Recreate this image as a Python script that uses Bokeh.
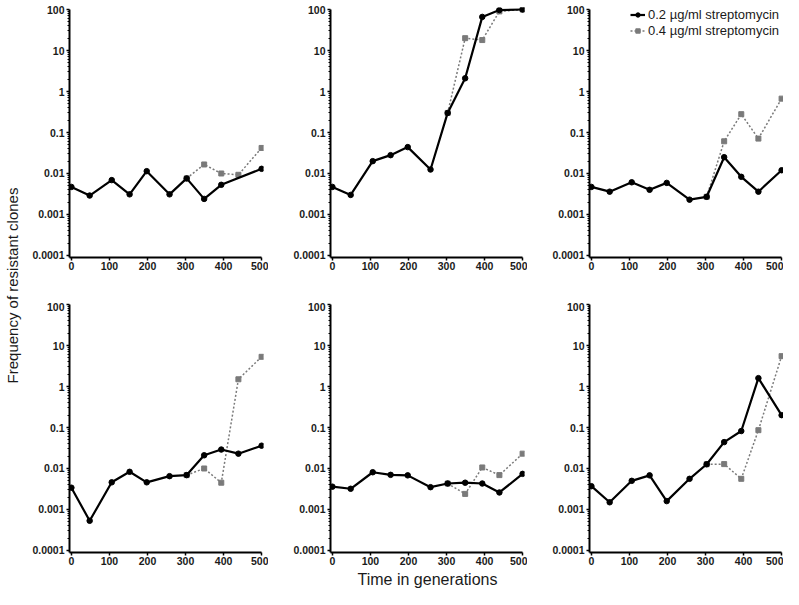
from bokeh.plotting import figure
from bokeh.layouts import row, column
from bokeh.models import FixedTicker, CustomJSTickFormatter, Legend, LegendItem, Label
from bokeh.embed import file_html
from bokeh.resources import INLINE

# ---------------- data ----------------
gens = [0, 48, 106, 153, 198, 258, 303, 349, 394, 439, 500]
gens_p1 = [0, 48, 106, 153, 198, 258, 303, 349, 394, 500]
gens_dash = [303, 349, 394, 439, 500]

p1_low = [0.0047, 0.0029, 0.0069, 0.0031, 0.0114, 0.0031, 0.0076, 0.0024, 0.0053, 0.013]
p1_high = [0.0076, 0.0166, 0.010, 0.0093, 0.042]
p2_low = [0.0047, 0.0030, 0.020, 0.028, 0.044, 0.0125, 0.30, 2.1, 66, 97, 100]
p2_high = [0.30, 20, 18, 90, 100]
p3_low = [0.0047, 0.0036, 0.0061, 0.0040, 0.0059, 0.0023, 0.0027, 0.025, 0.0083, 0.0036, 0.012]
p3_high = [0.0027, 0.061, 0.28, 0.071, 0.67]
p4_low = [0.0034, 0.00053, 0.0046, 0.0083, 0.0046, 0.0065, 0.0069, 0.021, 0.029, 0.023, 0.036]
p4_high = [0.0069, 0.010, 0.0045, 1.5, 5.3]
p5_low = [0.0036, 0.0032, 0.0081, 0.0070, 0.0068, 0.0035, 0.0043, 0.0045, 0.0043, 0.0026, 0.0074]
p5_high = [0.0043, 0.0024, 0.0106, 0.0069, 0.023]
p6_low = [0.0037, 0.0015, 0.0050, 0.0068, 0.0016, 0.0056, 0.0127, 0.044, 0.082, 1.6, 0.20]
p6_high = [0.0127, 0.0128, 0.0056, 0.086, 5.5]

y_ticks = [0.0001, 0.001, 0.01, 0.1, 1, 10, 100]
x_ticks = [0, 100, 200, 300, 400, 500]
label_low = "0.2 µg/ml streptomycin"
label_high = "0.4 µg/ml streptomycin"
y_title = "Frequency of resistant clones"
x_title = "Time in generations"

FONT = "Liberation Sans"
TXT = "#1a1a1a"
minor = [m * 10.0 ** e for e in range(-4, 2) for m in range(2, 10)]
X0, X1 = -5, 505
Y0, Y1 = 0.0001 / 1.12, 100 * 1.12
FRAME_W, FRAME_H = 194, 250


def panel(xl, yl, xh, yh, left, right, top, bottom):
    p = figure(width=left + FRAME_W + right, height=top + FRAME_H + bottom,
               y_axis_type="log", x_range=(X0, X1), y_range=(Y0, Y1),
               output_backend="svg", toolbar_location=None)
    p.min_border = 0
    p.min_border_left = left
    p.min_border_right = right
    p.min_border_top = top
    p.min_border_bottom = bottom
    p.outline_line_color = None
    p.xgrid.visible = False
    p.ygrid.visible = False
    p.background_fill_color = "white"

    p.yaxis.ticker = FixedTicker(ticks=y_ticks, minor_ticks=minor)
    p.yaxis.formatter = CustomJSTickFormatter(code="return tick.toString();")
    p.xaxis.ticker = FixedTicker(ticks=x_ticks, minor_ticks=[])
    p.yaxis.bounds = (Y0, 100)
    p.xaxis.bounds = (X0, 500)
    for ax in (p.xaxis, p.yaxis):
        ax.axis_line_width = 2
        ax.axis_line_color = "black"
        ax.major_tick_line_width = 1.5
        ax.major_tick_line_color = "black"
        ax.major_tick_in = 0
        ax.major_tick_out = 3
        ax.minor_tick_in = 0
        ax.minor_tick_out = 2
        ax.minor_tick_line_color = "black"
        ax.major_label_text_font = FONT
        ax.major_label_text_font_style = "bold"
        ax.major_label_text_font_size = "10.5px"
        ax.major_label_text_color = TXT
    p.xaxis.major_label_standoff = 1
    p.yaxis.major_label_standoff = 2

    lh = p.line(xh, yh, line_color="#7a7a7a", line_width=1.5, line_dash="2 2")
    sh = p.scatter(xh, yh, marker="square", size=5, color="#7a7a7a")
    ll = p.line(xl, yl, line_color="black", line_width=2.2)
    sl = p.scatter(xl, yl, marker="circle", size=5.5, color="black")
    return p, (ll, sl, lh, sh)


p1, _ = panel(gens_p1, p1_low, gens_dash, p1_high, 45, 5, 7, 45)
p2, _ = panel(gens, p2_low, gens_dash, p2_high, 62, 3, 7, 45)
p3, r3 = panel(gens, p3_low, gens_dash, p3_high, 62, 0, 7, 45)
p4, _ = panel(gens, p4_low, gens_dash, p4_high, 45, 5, 0, 17)
p5, _ = panel(gens, p5_low, gens_dash, p5_high, 62, 3, 0, 17)
p6, _ = panel(gens, p6_low, gens_dash, p6_high, 62, 0, 0, 17)


def style_legend(lg):
    lg.label_text_font = FONT
    lg.label_text_font_size = "13px"
    lg.label_text_color = TXT
    lg.glyph_width = 15
    lg.glyph_height = 11
    lg.label_height = 11
    lg.spacing = 0
    lg.padding = 0
    lg.margin = 0
    lg.label_standoff = 3
    lg.background_fill_alpha = 0
    lg.border_line_color = None


ll, sl, lh, sh = r3
leg1 = Legend(items=[LegendItem(label=label_low, renderers=[ll, sl])], location=(41, 235))
leg2 = Legend(items=[LegendItem(label=label_high, renderers=[lh, sh])], location=(41, 219))
style_legend(leg1)
style_legend(leg2)
p3.add_layout(leg1)
p3.add_layout(leg2)

# y title figure
tf = figure(width=24, height=589, x_range=(0, 24), y_range=(0, 589),
            output_backend="svg", toolbar_location=None)
tf.min_border = 0
tf.axis.visible = False
tf.grid.visible = False
tf.outline_line_color = None
tf.add_layout(Label(x=12, y=304, text=y_title, angle=90, angle_units="deg",
                    text_align="center", text_baseline="middle",
                    text_font=FONT, text_font_size="15px", text_color=TXT))

# x title figure
xf = figure(width=759, height=20, x_range=(0, 759), y_range=(0, 20),
            output_backend="svg", toolbar_location=None)
xf.min_border = 0
xf.axis.visible = False
xf.grid.visible = False
xf.outline_line_color = None
xf.add_layout(Label(x=403, y=10, text=x_title,
                    text_align="center", text_baseline="middle",
                    text_font=FONT, text_font_size="16px", text_color=TXT))

layout = row(tf, column(row(p1, p2, p3), row(p4, p5, p6), xf))
open("out.html", "w").write(file_html(layout, INLINE))
